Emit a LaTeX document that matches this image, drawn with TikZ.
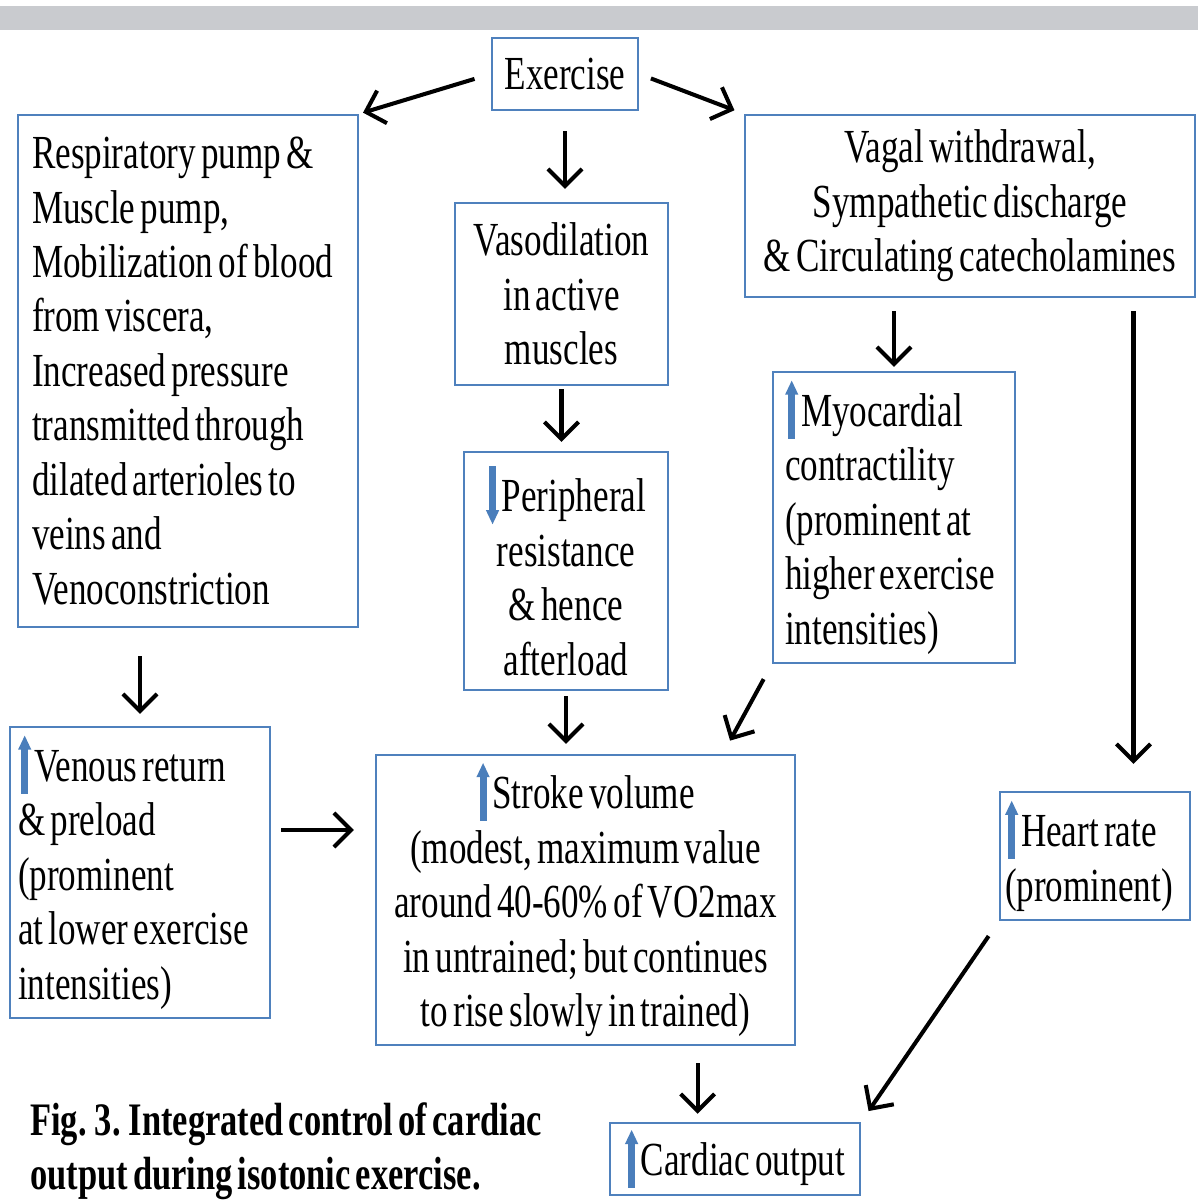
\documentclass[tikz,border=0pt]{standalone}
\usepackage{fontspec}
\setmainfont{Liberation Serif}[FakeStretch=0.74, WordSpace=0.6]
\usetikzlibrary{positioning, arrows.meta, calc}
\definecolor{boxblue}{HTML}{4F81BD}
\definecolor{markblue}{HTML}{4A7EBB}
\definecolor{bargray}{HTML}{C9CBCF}
% small blue up / down marks used inside the boxes
\newcommand{\upmark}{\tikz[baseline=0pt,x=1pt,y=1pt]{\fill[markblue] (-2,-7) rectangle (2,20); \fill[markblue] (-3.8,18) -- (0,26) -- (3.8,18) -- cycle;}\hspace{1.5pt}}
\newcommand{\downmark}{\tikz[baseline=0pt,x=1pt,y=1pt]{\fill[markblue] (-2,26) rectangle (2,-1); \fill[markblue] (-3.8,1) -- (0,-7) -- (3.8,1) -- cycle;}\hspace{1.5pt}}

\begin{document}
\begin{tikzpicture}[x=0.02cm, y=-0.02cm,
    box/.style={rectangle, draw=boxblue, line width=1.4pt, fill=white, align=center, font=\fontsize{27}{31}\selectfont, inner sep=0pt},
    lbox/.style={box, align=flush left, inner ysep=0pt},
    arr/.style={-{Straight Barb[length=3.4mm, width=6.8mm]}, line width=2.3pt},
    figcap/.style={font=\bfseries\fontsize{26.5}{31}\selectfont, align=left, inner sep=0pt},
  ]
    \useasboundingbox (0,0) rectangle (1198,1202);
    \fill[bargray] (0,6) rectangle (1198,30);

    \node[box, minimum width=2.92cm, minimum height=1.44cm] (ex) at (565,74) {Exercise};
    \node[lbox, text width=6.24cm, inner xsep=0.28cm, minimum height=10.24cm] (resp) at (188,371)
      {Respiratory pump \&\\Muscle pump,\\Mobilization of blood\\from viscera,\\Increased pressure\\transmitted through\\dilated arterioles to\\veins and\\Venoconstriction};
    \node[box, minimum width=4.26cm, minimum height=3.64cm] (vaso) at (561.5,294) {Vasodilation\\in active\\muscles};
    \node[box, minimum width=9.0cm, minimum height=3.64cm] (vagal) at (970,206)
      {Vagal withdrawal,\\Sympathetic discharge\\\& Circulating catecholamines};
    \node[lbox, text width=4.36cm, inner xsep=0.24cm, minimum height=5.82cm] (myo) at (894,517.5)
      {\upmark Myocardial\\contractility\\(prominent at\\higher exercise\\intensities)};
    \node[box, minimum width=4.08cm, minimum height=4.76cm] (peri) at (566,571)
      {\downmark Peripheral\\resistance\\\& hence\\afterload};
    \node[lbox, text width=4.88cm, inner xsep=0.16cm, minimum height=5.82cm] (venous) at (140,872.5)
      {\upmark Venous return\\\& preload\\(prominent\\at lower exercise\\intensities)};
    \node[box, minimum width=8.38cm, minimum height=5.8cm] (stroke) at (585.5,900)
      {\upmark Stroke volume\\(modest, maximum value\\around 40-60\% of VO2max\\in untrained; but continues\\to rise slowly in trained)};
    \node[lbox, text width=3.6cm, inner xsep=0.1cm, minimum height=2.56cm] (hr) at (1095,856)
      {\upmark Heart rate\\(prominent)};
    \node[box, minimum width=5.0cm, minimum height=1.44cm] (co) at (735,1159) {\upmark Cardiac output};
    \node[figcap, anchor=north west] (caption) at (30,1102)
      {Fig. 3. Integrated control of cardiac\\output during isotonic exercise.};

    \coordinate (hrin) at ($(hr.north west)!0.7!(hr.north east)$);
    \coordinate (strokein) at ($(stroke.north west)!0.826!(stroke.north east)$);
    \coordinate (coin) at ($(co.north west)!0.352!(co.north east)$);

    \draw[arr, shorten <=0.34cm, shorten >=0.08cm] (ex.west) -- (resp.north east);
    \draw[arr, shorten <=0.25cm, shorten >=0.2cm] (ex.east) -- (vagal.north west);
    \draw[arr, shorten <=0.4cm, shorten >=0.26cm] (ex.south) -- (ex.south |- vaso.north);
    \draw[arr, shorten <=0.06cm, shorten >=0.18cm] (vaso.south) -- (vaso.south |- peri.north);
    \draw[arr, shorten <=0.26cm, shorten >=0.08cm] (myo.north |- vagal.south) -- (myo.north);
    \draw[arr, shorten <=0.26cm, shorten >=0.54cm] (hrin |- vagal.south) -- (hrin);
    \draw[arr, shorten <=0.56cm, shorten >=0.24cm] (venous.north |- resp.south) -- (venous.north);
    \draw[arr, shorten <=0.2cm, shorten >=0.42cm] ([yshift=0.85cm]venous.east) -- ([yshift=0.85cm]venous.east -| stroke.west);
    \draw[arr, shorten <=0.1cm, shorten >=0.2cm] (peri.south) -- (peri.south |- stroke.north);
    \draw[arr, shorten <=0.34cm, shorten >=0.3cm] (myo.south west) -- (strokein);
    \draw[arr, shorten <=0.34cm, shorten >=0.16cm] (stroke.south -| coin) -- (coin);
    \draw[arr, shorten <=0.36cm, shorten >=0.26cm] (hr.south west) -- (co.north east);
  \end{tikzpicture}
\end{document}
